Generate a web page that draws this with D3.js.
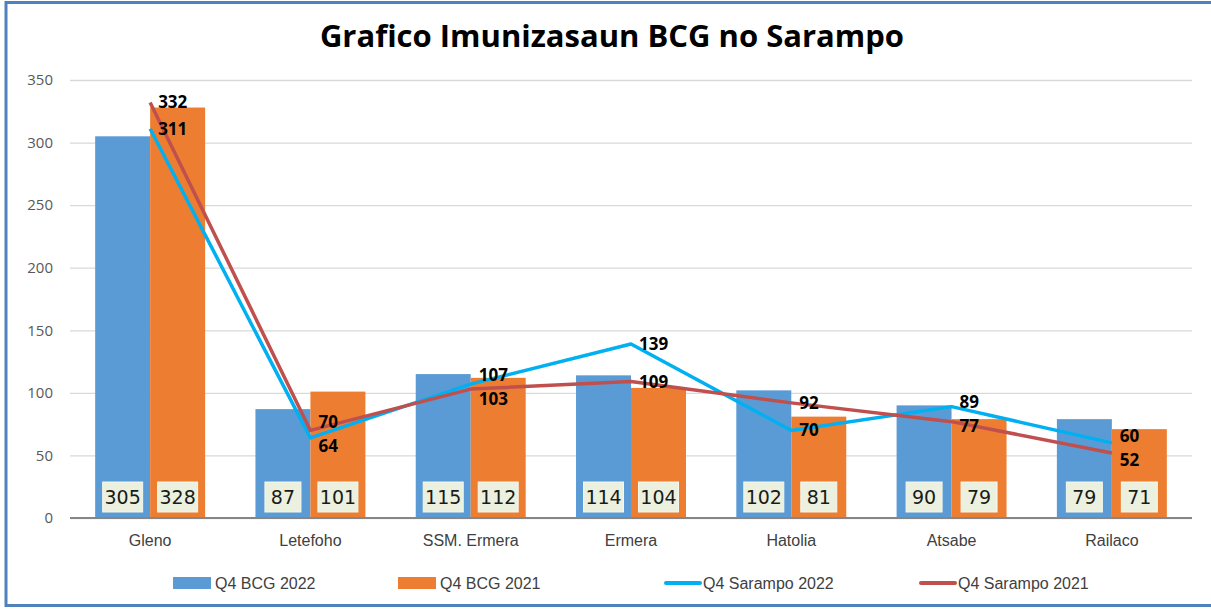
<!DOCTYPE html>
<html>
<head>
<meta charset="utf-8">
<script src="https://cdn.jsdelivr.net/npm/d3@7"></script>
<style>
  body { margin: 0; background: #fff; }
  svg { display: block; }
</style>
</head>
<body>
<svg id="chart" width="1211" height="609"></svg>
<script>
const municipios = ['Gleno', 'Letefoho', 'SSM. Ermera', 'Ermera', 'Hatolia', 'Atsabe', 'Railaco']
const bcg2022 = [305, 87, 115, 114, 102, 90, 79]
const bcg2021 = [328, 101, 112, 104, 81, 79, 71]
const sarampo2022 = [311, 64, 107, 139, 70, 89, 60]
const sarampo2021 = [332, 70, 103, 109, 92, 77, 52]
const yTicks = [0, 50, 100, 150, 200, 250, 300, 350]
const legendItems = ['Q4 BCG 2022', 'Q4 BCG 2021', 'Q4 Sarampo 2022', 'Q4 Sarampo 2021']

const colors = {
  bcg2022: '#5B9BD5',
  bcg2021: '#ED7D31',
  sarampo2022: '#00B0F0',
  sarampo2021: '#C0504D',
}

const narrow = '"Liberation Sans Narrow", "Liberation Sans", sans-serif'

const svg = d3.select('#chart')

// frame, runs off the right edge like the screenshot
svg.append('rect')
  .attr('x', 6).attr('y', 2.5)
  .attr('width', 1220).attr('height', 603)
  .attr('fill', '#fff')
  .attr('stroke', '#4F81BD')
  .attr('stroke-width', 3)

svg.append('text')
  .attr('x', 612).attr('y', 47)
  .attr('text-anchor', 'middle')
  .attr('font-family', '"Open Sans", sans-serif')
  .attr('font-weight', 'bold')
  .attr('font-size', 31)
  .attr('fill', '#000')
  .text('Grafico Imunizasaun BCG no Sarampo')

const x = d3.scaleBand()
  .domain(municipios)
  .range([70, 1192])
  .paddingInner(0.314)
  .paddingOuter(0.157)

const y = d3.scaleLinear()
  .domain([0, 350])
  .range([518, 80])

const sub = d3.scaleBand()
  .domain(['bcg2022', 'bcg2021'])
  .range([0, x.bandwidth()])

const center = d => x(d) + x.bandwidth() / 2

// gridlines + y labels
const yAxis = svg.append('g')
  .attr('transform', 'translate(70,0)')
  .call(d3.axisLeft(y).tickValues(yTicks).tickSize(-1122).tickPadding(17))

yAxis.select('.domain').remove()
yAxis.selectAll('.tick line').attr('stroke', '#D9D9D9').attr('stroke-width', 1.3)
yAxis.selectAll('.tick text')
  .attr('font-family', '"Open Sans", sans-serif')
  .attr('font-size', 15)
  .attr('fill', '#595959')

// bars
const series = [
  { key: 'bcg2022', values: bcg2022 },
  { key: 'bcg2021', values: bcg2021 },
]

series.forEach(s => {
  svg.append('g')
    .selectAll('rect')
    .data(s.values)
    .join('rect')
    .attr('x', (d, i) => x(municipios[i]) + sub(s.key))
    .attr('y', d => y(d))
    .attr('width', sub.bandwidth())
    .attr('height', d => y(0) - y(d))
    .attr('fill', colors[s.key])
})

// x axis baseline + category labels
const xAxis = svg.append('g')
  .attr('transform', `translate(0,${ y(0) })`)
  .call(d3.axisBottom(x).tickSize(0).tickPadding(17))

xAxis.select('.domain')
  .attr('stroke', '#868686')
  .attr('stroke-width', 2)
  .attr('d', 'M70,0H1192')
xAxis.selectAll('.tick text')
  .attr('font-family', narrow)
  .attr('font-size', 16)
  .attr('fill', '#404040')

// value boxes at the foot of each bar
series.forEach(s => {
  const g = svg.append('g')
    .selectAll('g')
    .data(s.values)
    .join('g')
    .attr('transform', (d, i) =>
      `translate(${ x(municipios[i]) + sub(s.key) + sub.bandwidth() / 2 },497)`)

  g.append('rect')
    .attr('x', d => String(d).length > 2 ? -20 : -18)
    .attr('y', -15)
    .attr('width', d => String(d).length > 2 ? 40 : 36)
    .attr('height', 30)
    .attr('fill', '#EBF1DE')
    .attr('stroke', '#F4F7EC')

  g.append('text')
    .attr('text-anchor', 'middle')
    .attr('dy', '0.36em')
    .attr('font-family', '"DejaVu Sans", sans-serif')
    .attr('font-size', 19)
    .attr('fill', '#1a1a1a')
    .text(d => d)
})

// lines
const line = d3.line()
  .x((d, i) => center(municipios[i]))
  .y(d => y(d))

const lines = [
  { key: 'sarampo2022', values: sarampo2022 },
  { key: 'sarampo2021', values: sarampo2021 },
]

lines.forEach(s => {
  svg.append('path')
    .datum(s.values)
    .attr('d', line)
    .attr('fill', 'none')
    .attr('stroke', colors[s.key])
    .attr('stroke-width', 3.5)
    .attr('stroke-linejoin', 'round')
})

// line labels, right of the point, nudged apart when they collide
municipios.forEach((m, i) => {
  const a = sarampo2022[i]
  const b = sarampo2021[i]
  let ya = y(a)
  let yb = y(b)
  const gap = 24
  if (Math.abs(ya - yb) < gap) {
    const mid = (ya + yb) / 2
    const sign = a >= b ? -1 : 1
    ya = mid + sign * gap / 2
    yb = mid - sign * gap / 2
  }
  ;[[a, ya], [b, yb]].forEach(([v, py]) => {
    svg.append('text')
      .attr('x', center(m) + 8)
      .attr('y', py)
      .attr('dy', '0.35em')
      .attr('font-family', '"Open Sans", sans-serif')
      .attr('font-weight', 'bold')
      .attr('font-size', 17)
      .attr('fill', '#000')
      .text(v)
  })
})

// legend
const legendX = [173, 398, 666, 921]
const legend = svg.append('g')
  .selectAll('g')
  .data(legendItems)
  .join('g')
  .attr('transform', (d, i) => `translate(${ legendX[i] },583)`)

legend.each(function (d, i) {
  const g = d3.select(this)
  if (i < 2) {
    g.append('rect')
      .attr('x', 0).attr('y', -6)
      .attr('width', 38).attr('height', 12)
      .attr('fill', i === 0 ? colors.bcg2022 : colors.bcg2021)
  } else {
    g.append('line')
      .attr('x1', 0).attr('x2', 34)
      .attr('stroke', i === 2 ? colors.sarampo2022 : colors.sarampo2021)
      .attr('stroke-width', 4)
      .attr('stroke-linecap', 'round')
  }
  g.append('text')
    .attr('x', i < 2 ? 42 : 37)
    .attr('dy', '0.35em')
    .attr('font-family', narrow)
    .attr('font-size', 16)
    .attr('fill', '#404040')
    .text(d)
})
</script>
</body>
</html>
